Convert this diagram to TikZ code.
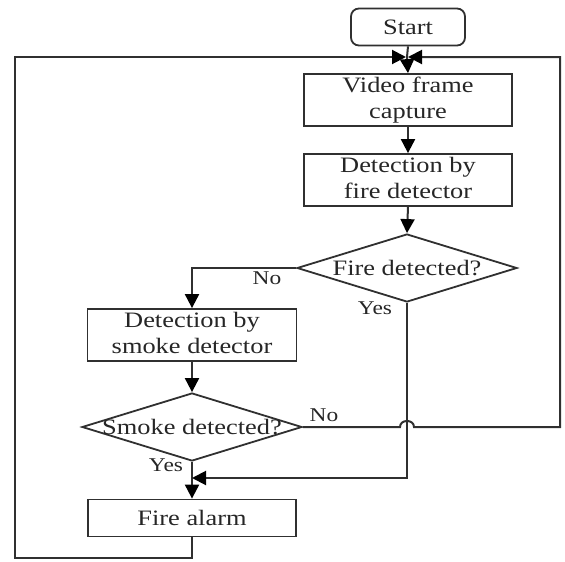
\documentclass[tikz,border=0pt]{standalone}
\usepackage{fontspec}
\setmainfont{Liberation Serif}
\usetikzlibrary{arrows.meta,shapes.geometric}
\definecolor{ln}{HTML}{303030}
\definecolor{tx}{HTML}{262626}
\newcommand{\wt}[1]{\scalebox{1.2}[1]{#1}}
\tikzset{
  box/.style={draw=ln, line width=1.8pt, minimum width=208pt, inner sep=0pt, align=center, text=tx,
    font=\fontsize{22}{26}\selectfont},
  term/.style={box, rounded corners=8pt, minimum width=114pt, minimum height=37pt},
  dia/.style={draw=ln, line width=1.8pt, diamond, inner sep=0pt, minimum width=220pt, minimum height=68pt},
  dtext/.style={text=tx, font=\fontsize{22}{26}\selectfont, inner sep=0pt},
  lbl/.style={text=tx, font=\fontsize{19.5}{22}\selectfont, inner sep=0pt},
  conn/.style={draw=ln, line width=2pt},
  arr/.style={conn, -{Triangle[length=14pt,width=14pt,fill=black,color=black]}},
}
\begin{document}
\begin{tikzpicture}[x=1pt,y=-1pt]
\useasboundingbox (0,0) rectangle (565,562);
\node[term] (start) at (408,27) {\wt{Start}};
\node[box, minimum height=50pt] (video) at (408,100) {\wt{\begin{tabular}{@{}c@{}}Video frame\\capture\end{tabular}}};
\node[box, minimum height=50pt] (fire) at (408,180) {\wt{\begin{tabular}{@{}c@{}}Detection by\\fire detector\end{tabular}}};
\node[dia] (fdia) at (407,268) {};
\node[dtext] (fdiat) at (fdia.center) {\wt{Fire detected?}};
\node[box, minimum height=50pt, minimum width=209pt] (smoke) at (192,335) {\wt{\begin{tabular}{@{}c@{}}Detection by\\smoke detector\end{tabular}}};
\node[dia] (sdia) at (192,427) {};
\node[dtext] (sdiat) at (sdia.center) {\wt{Smoke detected?}};
\node[box, minimum height=37pt] (alarm) at (192,518) {\wt{Fire alarm}};

\coordinate (j1) at (407,57);
\coordinate (j2) at (192,478);

\node[lbl] (lno1) at (267,278) {\wt{No}};
\node[lbl] (lyes1) at (375,308) {\wt{Yes}};
\node[lbl] (lno2) at (324,415) {\wt{No}};
\node[lbl] (lyes2) at (166,465) {\wt{Yes}};

\draw[conn] (start.south) -- (j1);
\draw[arr] (j1) -- (video.north);
\draw[arr] (video.south) -- (fire.north);
\draw[arr] (fire.south) -- (fdia.north);
\draw[arr] (fdia.west) -| (smoke.north);
\draw[arr] (smoke.south) -- (sdia.north);
\draw[arr] (sdia.south) -- (alarm.north);
\draw[arr] (fdia.south) |- (j2);
\draw[arr] (alarm.south) -- (192,558) -- (15,558) -- (15,57) -- ([xshift=-1pt]j1);
\draw[arr] (sdia.east) -- (400,427) .. controls (400,419) and (414,419) .. (414,427) -- (560,427) -- (560,57) -- ([xshift=1pt]j1);
\end{tikzpicture}
\end{document}
